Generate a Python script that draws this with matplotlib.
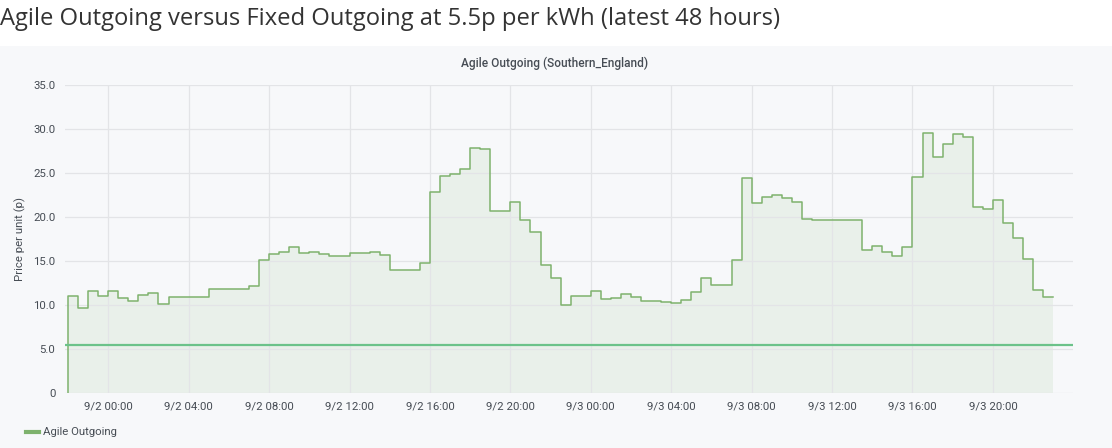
import datetime as dt
import matplotlib
matplotlib.use("Agg")
import matplotlib.pyplot as plt
import matplotlib.dates as mdates
from matplotlib.patches import Rectangle
from matplotlib.lines import Line2D

# ---------------- data ----------------
start_time = dt.datetime(2020, 9, 1, 22, 0)
slot_minutes = 30
agile_prices = [
    11.0, 9.7, 11.6, 11.0, 11.6, 10.8, 10.5, 11.2, 11.4, 10.1,
    10.9, 10.9, 10.9, 10.9, 11.8, 11.8, 11.8, 11.8, 12.2, 15.1,
    15.8, 16.0, 16.6, 15.9, 16.0, 15.8, 15.6, 15.6, 15.9, 15.9,
    16.0, 15.7, 14.0, 14.0, 14.0, 14.8, 22.9, 24.7, 24.9, 25.5,
    27.8, 27.7, 20.7, 20.7, 21.7, 19.7, 18.3, 14.6, 13.1, 10.0,
    11.0, 11.1, 11.6, 10.7, 10.8, 11.3, 10.9, 10.5, 10.5, 10.4,
    10.2, 10.6, 11.5, 13.1, 12.3, 12.3, 15.1, 24.4, 21.6, 22.3,
    22.5, 22.2, 21.7, 19.8, 19.7, 19.7, 19.7, 19.7, 19.7, 16.3,
    16.7, 16.0, 15.6, 16.6, 24.5, 29.6, 26.8, 28.3, 29.4, 29.1,
    21.2, 20.9, 21.9, 19.3, 17.6, 15.2, 11.7, 10.9,
]
fixed_price = 5.5
y_ticks = [0, 5, 10, 15, 20, 25, 30, 35]
y_tick_labels = ["0", "5.0", "10.0", "15.0", "20.0", "25.0", "30.0", "35.0"]
title = "Agile Outgoing versus Fixed Outgoing at 5.5p per kWh (latest 48 hours)"
panel_title = "Agile Outgoing (Southern_England)"
y_label = "Price per unit (p)"
legend_label = "Agile Outgoing"

# ---------------- figure ----------------
W, H = 1112, 448
fig = plt.figure(figsize=(W / 100, H / 100), dpi=100, facecolor="white")
fig.patches.append(Rectangle((0, 0), 1, 1 - 46 / H, transform=fig.transFigure,
                             facecolor="#F7F8FA", edgecolor="none", zorder=-10))

ax_left, ax_right = 65 / W, 1073 / W
ax_bottom, ax_top = 1 - 393.3 / H, 1 - 85 / H
ax = fig.add_axes([ax_left, ax_bottom, ax_right - ax_left, ax_top - ax_bottom])
ax.set_facecolor("none")

times = [start_time + dt.timedelta(minutes=slot_minutes * i) for i in range(len(agile_prices))]
end_time = times[-1] + dt.timedelta(minutes=slot_minutes)
t_ext = times + [end_time]
v_ext = agile_prices + [agile_prices[-1]]

green = "#7EB26D"
ax.fill_between(t_ext, 0, v_ext, step="post", color=green, alpha=0.11, linewidth=0, zorder=1)
# line including initial vertical rise from zero
ax.step([times[0]] + t_ext, [0] + v_ext, where="post", color=green, lw=1.1, zorder=3)
ax.axhline(fixed_price, color="#6CC28A", lw=1.6, zorder=4)

x0 = dt.datetime(2020, 9, 1, 21, 51)
x1 = dt.datetime(2020, 9, 3, 23, 59)
ax.set_xlim(x0, x1)
ax.set_ylim(0, 35)

ax.xaxis.set_major_locator(mdates.HourLocator(byhour=[0, 4, 8, 12, 16, 20]))
ax.xaxis.set_major_formatter(matplotlib.ticker.FuncFormatter(
    lambda v, p: (lambda d: f"{d.month}/{d.day} {d:%H:%M}")(mdates.num2date(v))))
ax.set_yticks(y_ticks)
ax.set_yticklabels(y_tick_labels)

txt_color = "#464C54"
for lab in ax.get_xticklabels() + ax.get_yticklabels():
    lab.set_fontfamily("Roboto")
    lab.set_fontsize(8.2)
    lab.set_color(txt_color)
ax.tick_params(axis="both", length=0, pad=6)
ax.tick_params(axis="y", pad=7)
ax.grid(True, color="#E3E4E7", lw=0.9, zorder=0)
for s in ax.spines.values():
    s.set_visible(False)

ax.set_ylabel(y_label, family="Roboto", fontsize=8.2, color=txt_color, labelpad=5)

fig.text(0 / W, 1 - 19 / H, title, family="Open Sans", fontweight="normal", fontsize=17.1,
         color="#333333", ha="left", va="center")
fig.text(555 / W, 1 - 63 / H, panel_title, family="Roboto", fontweight="medium",
         fontsize=8.6, color=txt_color, ha="center", va="center")

# legend
fig.add_artist(Line2D([26 / W, 39 / W], [1 - 432 / H, 1 - 432 / H], transform=fig.transFigure,
                      color=green, lw=3))
fig.text(43 / W, 1 - 432 / H, legend_label, family="Roboto", fontsize=8.2,
         color=txt_color, ha="left", va="center")

fig.savefig("out.png", dpi=100, facecolor=fig.get_facecolor())
